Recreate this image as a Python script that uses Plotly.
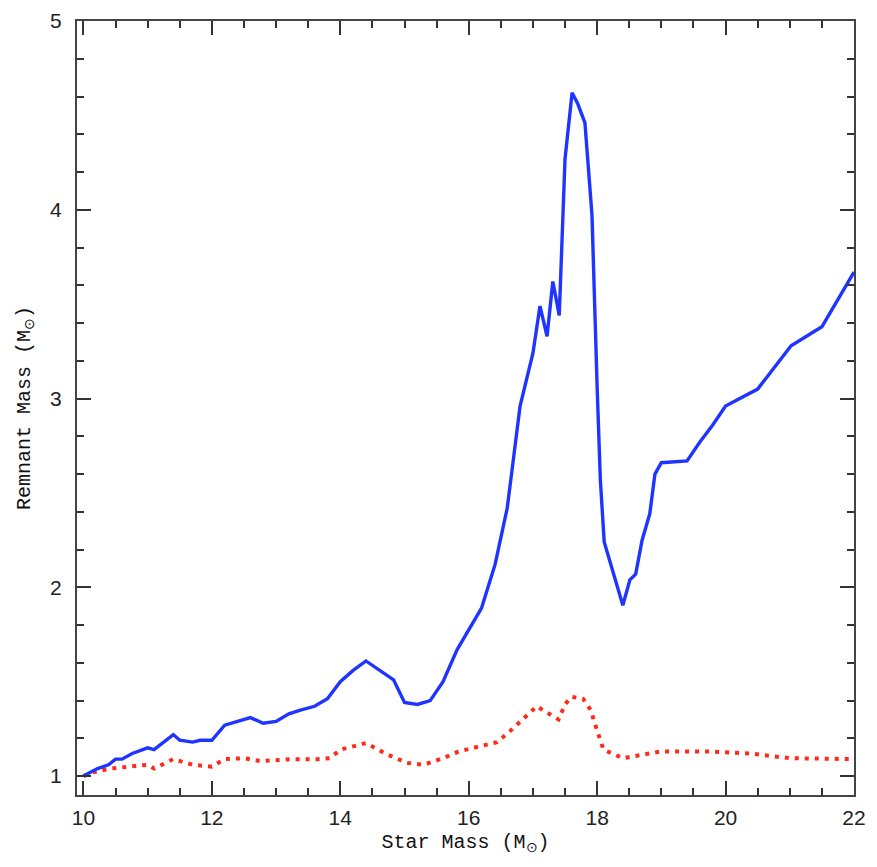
import plotly.graph_objects as go

blue_x = [10.0, 10.22, 10.39, 10.5, 10.6, 10.76, 11.0, 11.1, 11.4, 11.5, 11.7, 11.82, 12.0, 12.2, 12.6, 12.8,
          13.0, 13.2, 13.38, 13.6, 13.8, 14.0, 14.2, 14.4, 14.83, 15.0, 15.2, 15.4, 15.6, 15.82, 16.2, 16.41,
          16.6, 16.8, 17.0, 17.11, 17.22, 17.31, 17.41, 17.47, 17.5, 17.61, 17.7, 17.81, 17.88, 17.92, 18.0,
          18.05, 18.11, 18.4, 18.51, 18.6, 18.7, 18.82, 18.9, 19.0, 19.4, 19.6, 19.8, 20.0, 20.5, 21.02, 21.5, 22.0]
blue_y = [1.0, 1.04, 1.06, 1.09, 1.09, 1.12, 1.15, 1.14, 1.22, 1.19, 1.18, 1.19, 1.19, 1.27, 1.31, 1.28,
          1.29, 1.33, 1.35, 1.37, 1.41, 1.5, 1.56, 1.61, 1.51, 1.39, 1.38, 1.40, 1.5, 1.67, 1.89, 2.12,
          2.42, 2.96, 3.24, 3.49, 3.33, 3.62, 3.44, 3.97, 4.27, 4.62, 4.56, 4.46, 4.18, 3.97, 3.06,
          2.57, 2.24, 1.905, 2.04, 2.07, 2.25, 2.39, 2.6, 2.66, 2.67, 2.77, 2.86, 2.96, 3.05, 3.28, 3.38, 3.67]

red_x = [10.0, 10.15, 10.42, 10.68, 11.0, 11.1, 11.4, 11.7, 12.0, 12.2, 12.5, 12.75, 13.27, 13.64, 13.84,
         14.0, 14.4, 14.73, 15.04, 15.3, 15.6, 15.84, 16.18, 16.44, 16.65, 16.85, 17.06, 17.2, 17.4, 17.5,
         17.6, 17.78, 17.9, 18.0, 18.1, 18.4, 18.72, 18.98, 19.8, 20.38, 21.0, 22.0]
red_y = [1.0, 1.02, 1.04, 1.05, 1.06, 1.04, 1.09, 1.06, 1.05, 1.09, 1.095, 1.08, 1.09, 1.09, 1.095,
         1.14, 1.175, 1.115, 1.07, 1.06, 1.095, 1.13, 1.16, 1.18, 1.24, 1.30, 1.37, 1.34, 1.30, 1.38,
         1.42, 1.41, 1.35, 1.24, 1.14, 1.095, 1.115, 1.13, 1.13, 1.12, 1.095, 1.09]

x_ticks = [10, 12, 14, 16, 18, 20, 22]
y_ticks = [1, 2, 3, 4, 5]

fig = go.Figure()
fig.add_trace(go.Scatter(x=red_x, y=red_y, mode="lines",
                         line=dict(color="#ff2a1a", width=4, dash="4px,6px"), showlegend=False))
fig.add_trace(go.Scatter(x=blue_x, y=blue_y, mode="lines",
                         line=dict(color="#1f35ff", width=3.4), showlegend=False))

axis_common = dict(showgrid=False, zeroline=False, showline=True, linecolor="#444444", linewidth=2,
                   mirror="allticks", ticks="inside", tickcolor="#333333", ticklen=14, tickwidth=2,
                   automargin=False, ticklabeloverflow="allow",
                   tickfont=dict(family="Liberation Sans, Arial", size=21, color="#222222"))
title_font = dict(family="Liberation Mono, Courier New", size=20, color="#111111")

fig.update_xaxes(range=[9.9, 22], tickvals=x_ticks, ticktext=[str(v) for v in x_ticks],
                 ticklabelstandoff=3,
                 minor=dict(dtick=0.5, tick0=10, ticks="inside", ticklen=7, tickwidth=1.5, tickcolor="#333333"),
                 title=dict(text="Star Mass (M<sub>⊙</sub>)", font=title_font, standoff=6),
                 **axis_common)
fig.update_yaxes(range=[0.9, 5], tickvals=y_ticks, ticktext=[str(v) for v in y_ticks],
                 ticklabelstandoff=9,
                 minor=dict(dtick=0.2, tick0=1, ticks="inside", ticklen=7, tickwidth=1.5, tickcolor="#333333"),
                 title=dict(text="Remnant Mass (M<sub>⊙</sub>)", font=title_font, standoff=14),
                 **axis_common)

fig.update_layout(width=861, height=851, margin=dict(l=69, r=15, t=13, b=64),
                  paper_bgcolor="white", plot_bgcolor="white")
fig.write_html("out.html")
